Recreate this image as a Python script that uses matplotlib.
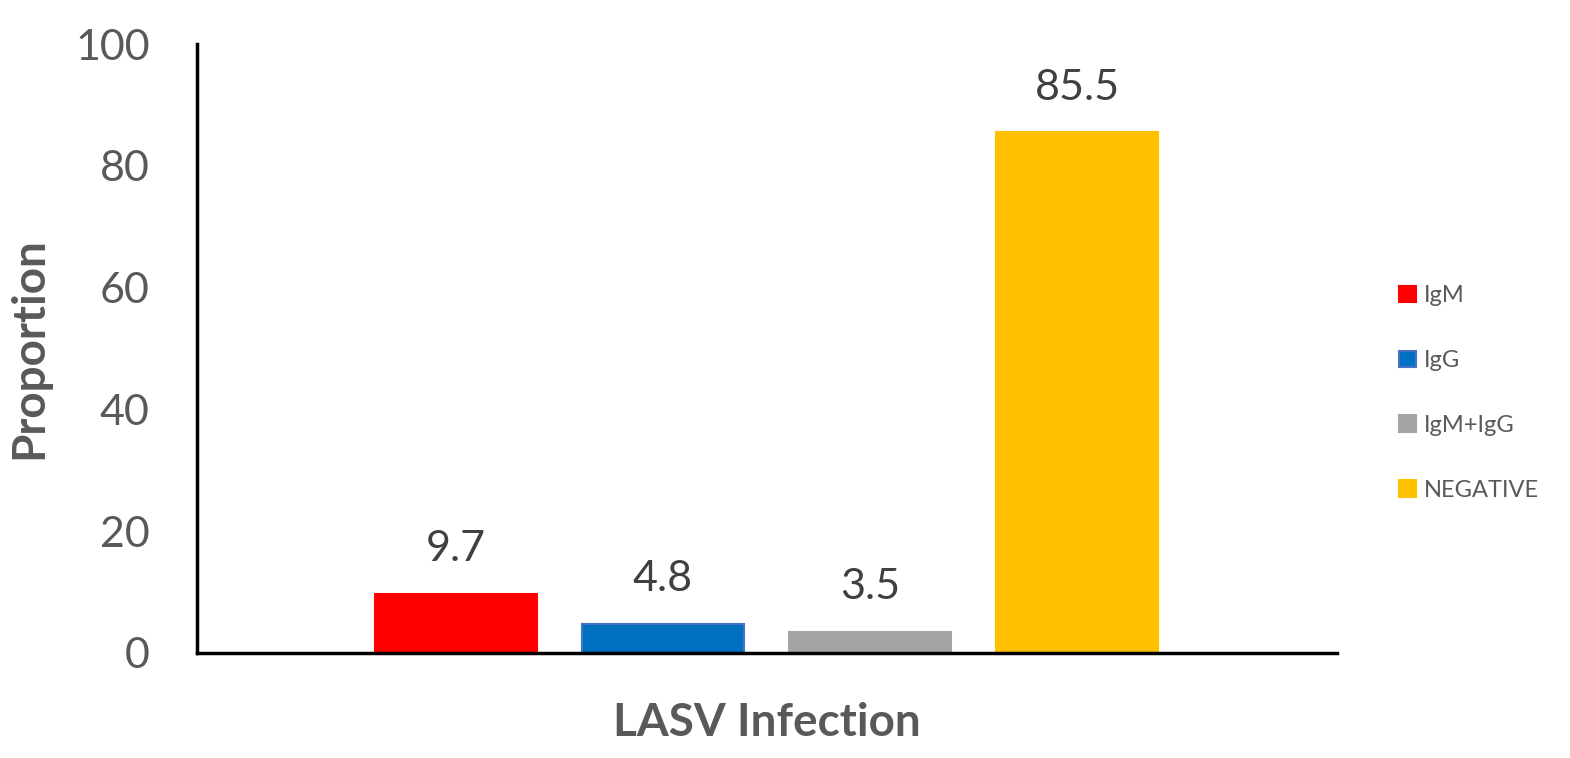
import numpy as np
import matplotlib.pyplot as plt
from matplotlib.patches import Patch

# dados
categorias = ['IgM', 'IgG', 'IgM+IgG', 'NEGATIVE']
valores = [9.7, 4.8, 3.5, 85.5]
cores = ['#FF0000', '#0070C0', '#A5A5A5', '#FFC000']
bordas = ['#FF0000', '#4472C4', '#A5A5A5', '#FFC000']
yticks = [0, 20, 40, 60, 80, 100]

plt.rcParams['font.family'] = ['Lato', 'DejaVu Sans']

fig = plt.figure(figsize=(15.7, 7.58), dpi=100)
ax = fig.add_axes([197/1570, 1 - 653/758, 1140/1570, 609/758])

x = np.arange(len(categorias))
ax.bar(x, valores, width=0.78, color=cores, edgecolor=bordas, linewidth=1.5, zorder=2)

# rótulos das barras
for xi, v in zip(x, valores):
    ax.annotate(f'{v}', (xi, v), xytext=(0, 32), textcoords='offset points',
                ha='center', va='center', fontsize=31, color='#404040')

ax.set_xlim(-1.251, 4.256)
ax.set_ylim(0, 100)
ax.set_yticks(yticks)
ax.set_xticks([])
ax.tick_params(axis='y', length=0, pad=34, labelsize=31, labelcolor='#595959')

for s in ['top', 'right']:
    ax.spines[s].set_visible(False)
for s in ['left', 'bottom']:
    ax.spines[s].set_linewidth(2.5)
    ax.spines[s].set_color('black')

ax.set_ylabel('Proportion', fontsize=33, fontweight='bold', color='#595959', labelpad=18)
ax.set_xlabel('LASV Infection', fontsize=33, fontweight='bold', color='#595959', labelpad=35)

handles = [Patch(facecolor=c, edgecolor=b, linewidth=1.5) for c, b in zip(cores, bordas)]
fig.legend(handles, categorias, loc='center left', bbox_to_anchor=(1378/1570, 1 - 393/758),
           frameon=False, fontsize=17, handlelength=0.7, handleheight=0.7,
           handletextpad=0.35, labelspacing=1.85, labelcolor='#595959')

fig.savefig('out.png', dpi=100)
